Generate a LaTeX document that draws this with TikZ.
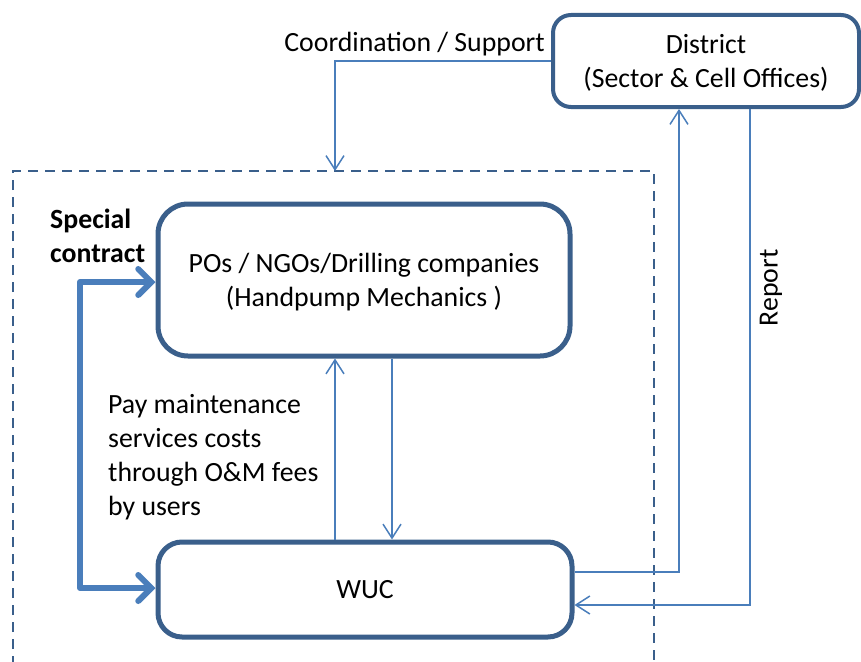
\documentclass[tikz,border=0pt]{standalone}
\usepackage{fontspec}
\setmainfont{Carlito}
\usetikzlibrary{arrows.meta}
\definecolor{boxblue}{HTML}{3A5F8B}
\definecolor{linkblue}{HTML}{4A7EBB}
% two-line centred label, drawn 3pt lower than its box says
\newcommand{\lowstack}[2]{\raisebox{-3pt}[\height][\depth]{\begin{tabular}{@{}c@{}}#1\\#2\end{tabular}}}
\begin{document}
\begin{tikzpicture}[x=1pt,y=-1pt,
  txt/.style={font=\fontsize{27.8}{34}\selectfont, align=center, inner sep=0pt},
  unit/.style={draw=boxblue, rounded corners=#1, fill=white, txt},
  unit/.default=22pt,
  conn/.style={draw=linkblue, line width=1.5pt},
  vhead/.style={-{Straight Barb[length=14pt,width=18pt,line width=1.5pt]}},
  thick link/.style={draw=linkblue, line width=6pt, line cap=round, line join=round,
    {Straight Barb[length=13pt,width=26pt,line width=6pt,line cap=round]}-{Straight Barb[length=13pt,width=26pt,line width=6pt,line cap=round]}}]
\useasboundingbox (0,0) rectangle (861,661);
\clip (0,0) rectangle (861,661);

% project boundary (dashed, open at the bottom)
\draw[boxblue, line width=2.8pt, dash pattern=on 10pt off 7pt] (13,700) -- (13,171) -- (654,171) -- (654,700);
\coordinate (bound) at (335,171);

% units
\node[unit=18pt, line width=4pt, minimum width=306pt, minimum height=92pt] (dist) at (706,61)
  {\lowstack{District}{(Sector \& Cell Offices)}};
\node[unit=30pt, line width=5pt, minimum width=412pt, minimum height=152pt] (po) at (364,280)
  {\lowstack{POs / NGOs/Drilling companies}{(Handpump Mechanics )}};
\node[unit=24pt, line width=5pt, minimum width=414pt, minimum height=95pt] (wuc) at (365,589.5) {WUC};

% helper positions for vertical links
\coordinate (upx) at (335,450);
\coordinate (downx) at (392,450);
\coordinate (repx) at (679,300);
\coordinate (retx) at (750,300);

% coordination from the district
\draw[conn, vhead] (dist.west) -| (bound);
\node[txt, anchor=east] (coord) at (545,44) {Coordination / Support};

% links between POs and WUC
\draw[conn, vhead] (wuc.north -| upx) -- (po.south -| upx);
\draw[conn, vhead] (po.south -| downx) -- (wuc.north -| downx);

% special contract
\coordinate (sc) at (80,400);
\draw[thick link] (po.west |- 0,282) -- (sc |- 0,282) -- (sc |- 0,588) -- (wuc.west |- 0,588);
\node[txt, font=\fontsize{27.8}{34}\bfseries, align=left, anchor=west] (special) at (50,236) {Special\\contract};

% payment note
\node[txt, align=left, anchor=west] (pay) at (108,457)
  {Pay maintenance\\services costs\\through O\&M fees\\by users};

% reporting loop with the district
\draw[conn, vhead] ([yshift=17.5pt]wuc.east) -| (repx |- dist.south);
\draw[conn, vhead] (retx |- dist.south) |- ([yshift=-15.5pt]wuc.east);
\node[txt, rotate=90] (report) at (771,288) {Report};
\end{tikzpicture}
\end{document}
